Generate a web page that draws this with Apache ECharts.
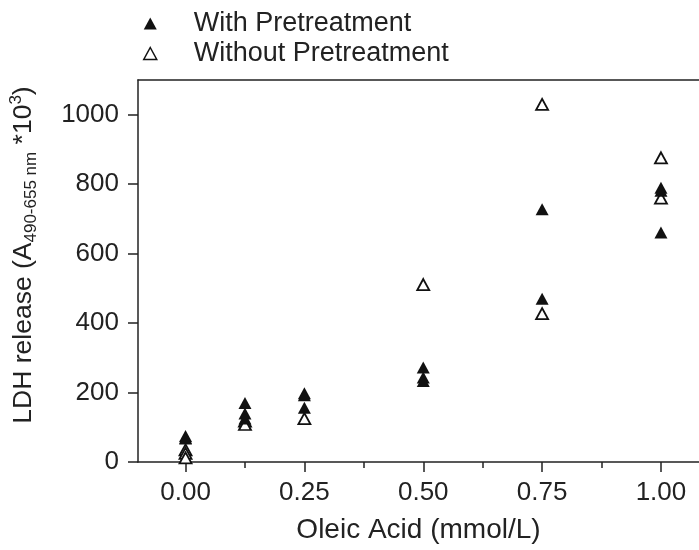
<!DOCTYPE html>
<html>
<head>
<meta charset="utf-8">
<script src="https://cdn.jsdelivr.net/npm/echarts@6/dist/echarts.min.js"></script>
<style>html,body{margin:0;padding:0;background:#fff}#c{width:699px;height:550px}</style>
</head>
<body>
<div id="c"></div>
<script>
// Data
const seriesNames = ['With Pretreatment', 'Without Pretreatment'];
const withX = [0, 0, 0, 0.125, 0.125, 0.125, 0.25, 0.25, 0.25, 0.5, 0.5, 0.5, 0.75, 0.75, 1.0, 1.0, 1.0];
const withY = [75, 70, 68, 170, 140, 125, 198, 192, 156, 272, 243, 233, 728, 470, 790, 781, 661];
const withoutX = [0, 0, 0, 0.125, 0.125, 0.25, 0.5, 0.75, 0.75, 1.0, 1.0];
const withoutY = [35, 25, 12, 118, 108, 125, 511, 1030, 427, 876, 760];
const xMajorTicks = [0, 0.25, 0.5, 0.75, 1.0];
const xMinorTicks = [0.125, 0.375, 0.625, 0.875];
const yTicks = [0, 200, 400, 600, 800, 1000];

const FONT = 'Liberation Sans, Arial, sans-serif';
const withData = withX.map((x, i) => [x, withY[i]]);
const withoutData = withoutX.map((x, i) => [x, withoutY[i]]);

const chart = echarts.init(document.getElementById('c'));
chart.setOption({
  animation: false,
  backgroundColor: '#fff',
  legend: {
    orient: 'vertical',
    left: 138,
    top: 5,
    itemGap: 3,
    itemWidth: 13,
    itemHeight: 12,
    textStyle: { fontFamily: FONT, fontSize: 27, color: '#222', padding: [0, 0, 0, 32] },
    data: [
      { name: seriesNames[0], icon: 'triangle', itemStyle: { color: '#111', borderWidth: 0 } },
      { name: seriesNames[1], icon: 'triangle', itemStyle: { color: '#fff', borderColor: '#111', borderWidth: 1.5 } }
    ]
  },
  grid: { left: 135, right: 0, top: 80, bottom: 88, containLabel: false },
  xAxis: [
    {
      type: 'value', min: -0.1, max: 1.08, position: 'bottom',
      name: 'Oleic Acid (mmol/L)', nameLocation: 'middle', nameGap: 54,
      nameTextStyle: { fontFamily: FONT, fontSize: 28, color: '#222' },
      axisLine: { show: true, onZero: false, lineStyle: { color: '#222', width: 1.5 } },
      axisTick: { show: true, length: 10, customValues: xMajorTicks, lineStyle: { color: '#222', width: 1.5 } },
      axisLabel: { show: true, customValues: xMajorTicks, margin: 18, fontFamily: FONT, fontSize: 26, color: '#222',
        formatter: v => v.toFixed(2) },
      splitLine: { show: false }
    },
    {
      type: 'value', min: -0.1, max: 1.08, position: 'bottom',
      axisLine: { show: false },
      axisTick: { show: true, length: 6, customValues: xMinorTicks, lineStyle: { color: '#222', width: 1.5 } },
      axisLabel: { show: false },
      splitLine: { show: false }
    },
    {
      type: 'value', min: -0.1, max: 1.08, position: 'top',
      axisLine: { show: true, onZero: false, lineStyle: { color: '#222', width: 1.5 } },
      axisTick: { show: false }, axisLabel: { show: false }, splitLine: { show: false }
    }
  ],
  yAxis: {
    type: 'value', min: 0, max: 1100,
    name: '{n|LDH release (A}{sub|490-655 nm}{n| *10}{sup|3}{n|)}',
    nameLocation: 'middle', nameGap: 98,
    nameTextStyle: {
      fontFamily: FONT, fontSize: 26, color: '#222', padding: [0, 0, 0, 32],
      rich: {
        n: { fontFamily: FONT, fontSize: 26.5, color: '#222', lineHeight: 32, verticalAlign: 'middle' },
        sub: { fontFamily: FONT, fontSize: 17, color: '#222', lineHeight: 32, verticalAlign: 'bottom' },
        sup: { fontFamily: FONT, fontSize: 17, color: '#222', lineHeight: 32, verticalAlign: 'top' }
      }
    },
    axisLine: { show: true, onZero: false, lineStyle: { color: '#222', width: 1.5 } },
    axisTick: { show: true, length: 10, customValues: yTicks, lineStyle: { color: '#222', width: 1.5 } },
    axisLabel: { show: true, customValues: yTicks, margin: 19, fontFamily: FONT, fontSize: 26, color: '#222',
      formatter: v => String(v) },
    splitLine: { show: false }
  },
  series: [
    {
      name: seriesNames[0], type: 'scatter', xAxisIndex: 0, data: withData,
      symbol: 'triangle', symbolSize: [13, 12],
      itemStyle: { color: '#111', borderWidth: 0, opacity: 1 }, z: 3
    },
    {
      name: seriesNames[1], type: 'scatter', xAxisIndex: 0, data: withoutData,
      symbol: 'triangle', symbolSize: [12, 11],
      itemStyle: { color: '#fff', borderColor: '#111', borderWidth: 1.8, opacity: 1 }, z: 2
    }
  ]
});
</script>
</body>
</html>
